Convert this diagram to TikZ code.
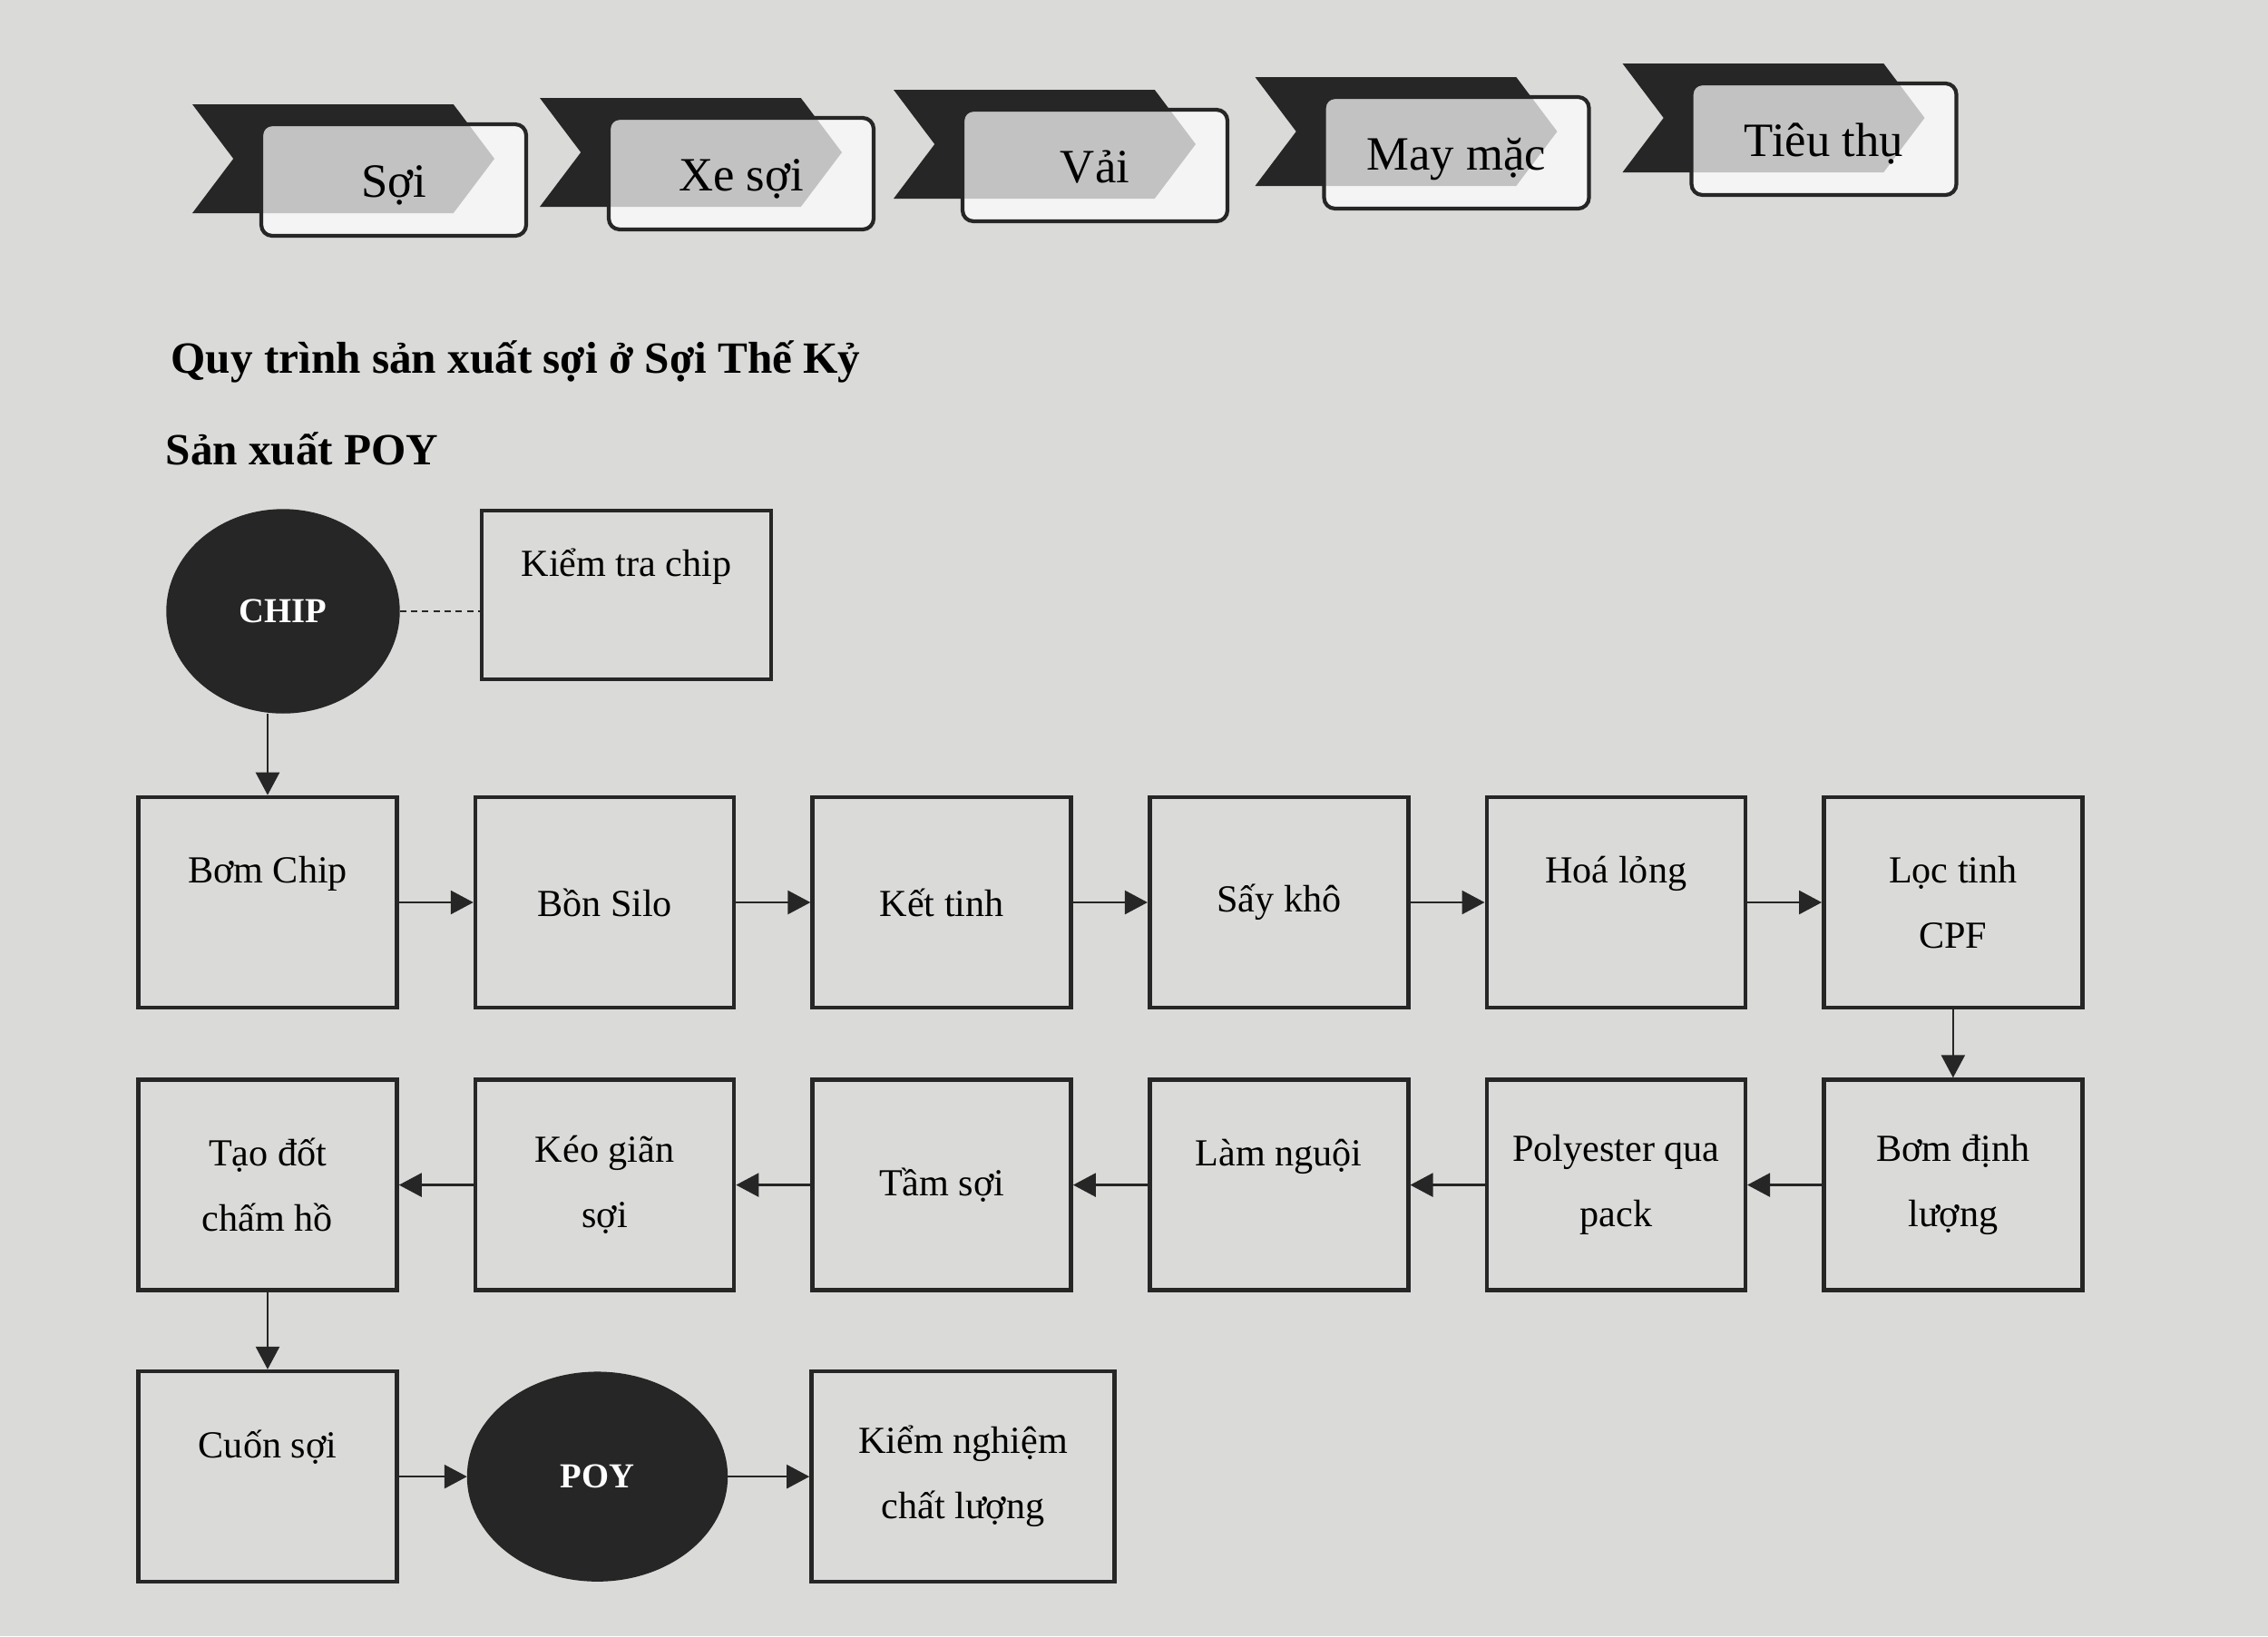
\documentclass[tikz,border=0pt]{standalone}
\usepackage{fontspec}
\setmainfont{Liberation Serif}
\usetikzlibrary{positioning}
\usetikzlibrary{calc}
\usetikzlibrary{arrows.meta}
\usetikzlibrary{shapes.geometric}
\usetikzlibrary{shapes.symbols}
\definecolor{paper}{RGB}{218,218,216}
\definecolor{ink}{RGB}{38,38,38}

\begin{document}
\begin{tikzpicture}[
    chev/.style={signal, signal from=west, signal to=east, signal pointer angle=106,
        fill=ink, minimum width=3.33cm, minimum height=1.2cm, inner sep=0pt},
    stage/.style={draw=ink, line width=1.2pt, rounded corners=1.2mm, fill=white,
        fill opacity=0.72, text opacity=1, minimum width=2.92cm, minimum height=1.23cm,
        text height=11pt, text depth=0pt, font=\fontsize{15}{18}\selectfont},
    stepbox/.style={draw=ink, line width=1.3pt, minimum width=2.85cm, minimum height=2.32cm,
        align=center, inner sep=1pt, font=\fontsize{12}{20.5}\selectfont},
    blob/.style={ellipse, draw=ink, fill=ink, text=white, minimum width=2.56cm,
        minimum height=2.24cm, font=\fontsize{11}{13}\selectfont\bfseries},
    flow/.style={draw=ink, line width=0.7pt, -{Triangle[length=2.5mm, width=2.6mm]}},
    heading/.style={anchor=base west, inner sep=0pt, font=\fontsize{14}{16}\selectfont\bfseries}
]
            \fill[paper] (0,0) rectangle (25,-18.04);
            \useasboundingbox (0,0) rectangle (25,-18.04);

            % chuoi gia tri
            \node[chev] (c1) at (3.785,-1.75) {};
            \node[stage] (soi) at ($(c1)+(0.555,-0.235)$) {Sợi};
            \node[chev] (c2) at (7.615,-1.68) {};
            \node[stage] (xe) at ($(c2)+(0.555,-0.235)$) {Xe sợi};
            \node[chev] (c3) at (11.515,-1.59) {};
            \node[stage] (vai) at ($(c3)+(0.555,-0.235)$) {Vải};
            \node[chev] (c4) at (15.50,-1.45) {};
            \node[stage] (may) at ($(c4)+(0.555,-0.235)$) {May mặc};
            \node[chev] (c5) at (19.55,-1.30) {};
            \node[stage] (tieu) at ($(c5)+(0.555,-0.235)$) {Tiêu thụ};

            \node[heading] (quy) at (1.88,-4.11) {Quy trình sản xuất sợi ở Sợi Thế Kỷ};
            \node[heading] (sx) at (1.82,-5.12) {Sản xuất POY};

            % hang 1
            \node[stepbox] (bom) at (2.95,-9.95) {Bơm Chip\\\mbox{}};
            \node[stepbox, right = 8.2mm of bom] (silo) {Bồn Silo};
            \node[stepbox, right = 8.2mm of silo] (ket) {Kết tinh};
            \node[stepbox, right = 8.2mm of ket] (say) {Sấy khô};
            \node[stepbox, right = 8.2mm of say] (hoa) {Hoá lỏng\\\mbox{}};
            \node[stepbox, right = 8.2mm of hoa] (loc) {Lọc tinh\\CPF};

            % hang 2
            \node[stepbox, below = 7.5mm of loc] (dinh) {Bơm định\\lượng};
            \node[stepbox, below = 7.5mm of hoa] (pack) {Polyester qua\\pack};
            \node[stepbox, below = 7.5mm of say] (nguoi) {Làm nguội\\\mbox{}};
            \node[stepbox, below = 7.5mm of ket] (tam) {Tầm sợi};
            \node[stepbox, below = 7.5mm of silo] (keo) {Kéo giãn\\sợi};
            \node[stepbox, below = 7.5mm of bom] (tao) {Tạo đốt\\chấm hồ};

            % hang 3
            \node[stepbox, below = 8.5mm of tao] (cuon) {Cuốn sợi\\\mbox{}};
            \node[blob, right = 7.5mm of cuon, minimum width=2.86cm, minimum height=2.3cm] (poy) {POY};
            \node[stepbox, right = 9mm of poy, minimum width=3.34cm] (nghiem) {Kiểm nghiệm\\chất lượng};

            \node[blob, above = 9mm of bom, xshift=1.7mm] (chip) {CHIP};
            \node[stepbox, right = 8.8mm of chip, yshift=1.8mm, minimum width=3.19cm,
                minimum height=1.86cm] (kt) {Kiểm tra chip\\\mbox{}};

            \draw[ink, line width=0.7pt, dash pattern=on 2pt off 1.5pt] (chip.east) -- (chip.east -| kt.west);
            \draw[flow] (bom.north |- chip.south) -- (bom);
            \draw[flow] (bom) -- (silo);
            \draw[flow] (silo) -- (ket);
            \draw[flow] (ket) -- (say);
            \draw[flow] (say) -- (hoa);
            \draw[flow] (hoa) -- (loc);
            \draw[flow] (loc) -- (dinh);
            \draw[flow] (dinh) -- (pack);
            \draw[flow] (pack) -- (nguoi);
            \draw[flow] (nguoi) -- (tam);
            \draw[flow] (tam) -- (keo);
            \draw[flow] (keo) -- (tao);
            \draw[flow] (tao) -- (cuon);
            \draw[flow] (cuon) -- (poy);
            \draw[flow] (poy) -- (nghiem);
        \end{tikzpicture}
\end{document}
